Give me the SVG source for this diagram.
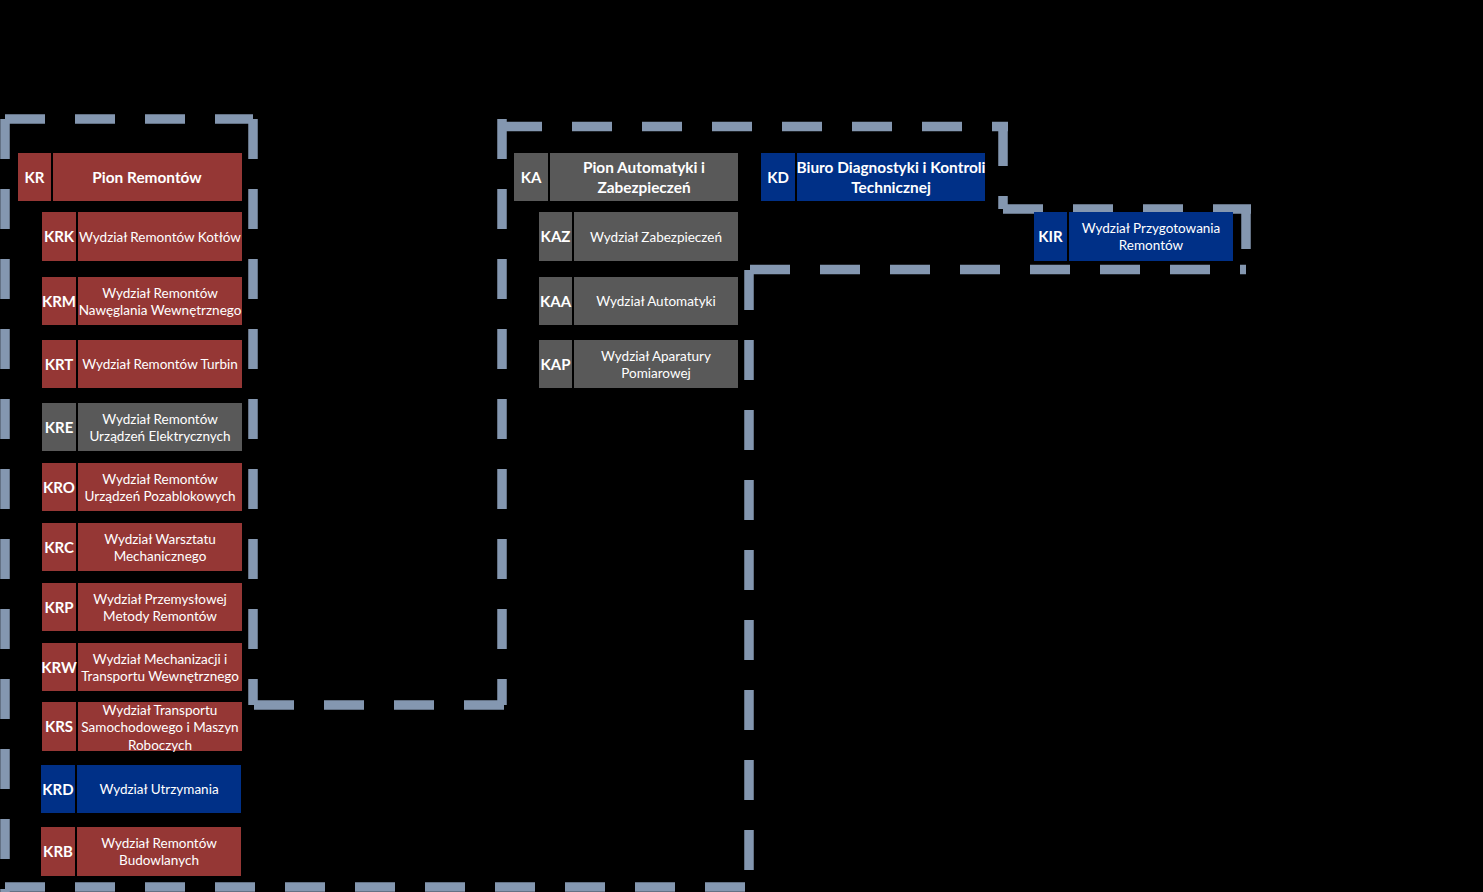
<svg xmlns="http://www.w3.org/2000/svg" width="1483" height="892" viewBox="0 0 1483 892">
<style>
.bg{fill:#000}
.red{fill:#953735}
.grey{fill:#595959}
.blue{fill:#003087}
.code{font-family:Lato,"Liberation Sans",sans-serif;font-weight:bold;font-size:15px;fill:#fff;text-anchor:middle}
.ttl{font-family:Lato,"Liberation Sans",sans-serif;font-weight:bold;font-size:15.4px;fill:#fff;text-anchor:middle}
.nm{font-family:Lato,"Liberation Sans",sans-serif;font-size:13.5px;fill:#fff;text-anchor:middle}
.dash{stroke:#8497B0;stroke-width:9.5;fill:none;stroke-dasharray:40 30}
</style>
<rect class="bg" x="0" y="0" width="1483" height="892"/>
<g id="connectors">
<line class="dash" x1="5" y1="119" x2="253" y2="119"/>
<line class="dash" x1="5" y1="119" x2="5" y2="892"/>
<line class="dash" x1="253" y1="119" x2="253" y2="705"/>
<line class="dash" x1="254" y1="705" x2="507" y2="705"/>
<line class="dash" x1="502" y1="119" x2="502" y2="705"/>
<line class="dash" x1="502" y1="126.5" x2="1008" y2="126.5"/>
<line class="dash" x1="1003" y1="126" x2="1003" y2="209"/>
<line class="dash" x1="1003" y1="209" x2="1251" y2="209"/>
<line class="dash" x1="1246" y1="209" x2="1246" y2="270"/>
<line class="dash" x1="750" y1="269.5" x2="1246" y2="269.5"/>
<line class="dash" x1="749" y1="270" x2="749" y2="892"/>
<line class="dash" x1="5" y1="887" x2="749" y2="887"/>
</g>
<g id="KR">
<rect class="red" x="18" y="153" width="33" height="48"/>
<rect class="red" x="53" y="153" width="189" height="48"/>
<text class="code" x="34.5" y="182.5">KR</text>
<text class="ttl" x="147" y="182.5">Pion Remontów</text>
</g>
<g id="KRK">
<rect class="red" x="42" y="212" width="34" height="49"/>
<rect class="red" x="78" y="212" width="164" height="49"/>
<text class="code" x="59" y="242">KRK</text>
<text class="nm" x="160" y="241.5">Wydział Remontów Kotłów</text>
</g>
<g id="KRM">
<rect class="red" x="42" y="277" width="34" height="48"/>
<rect class="red" x="78" y="277" width="164" height="48"/>
<text class="code" x="59" y="306.5">KRM</text>
<text class="nm" x="160" y="297.5">Wydział Remontów<tspan x="160" dy="17">Nawęglania Wewnętrznego</tspan></text>
</g>
<g id="KRT">
<rect class="red" x="42" y="340" width="34" height="48"/>
<rect class="red" x="78" y="340" width="164" height="48"/>
<text class="code" x="59" y="369.5">KRT</text>
<text class="nm" x="160" y="369">Wydział Remontów Turbin</text>
</g>
<g id="KRE">
<rect class="grey" x="42" y="403" width="34" height="48"/>
<rect class="grey" x="78" y="403" width="164" height="48"/>
<text class="code" x="59" y="432.5">KRE</text>
<text class="nm" x="160" y="423.5">Wydział Remontów<tspan x="160" dy="17">Urządzeń Elektrycznych</tspan></text>
</g>
<g id="KRO">
<rect class="red" x="42" y="463" width="34" height="48"/>
<rect class="red" x="78" y="463" width="164" height="48"/>
<text class="code" x="59" y="492.5">KRO</text>
<text class="nm" x="160" y="483.5">Wydział Remontów<tspan x="160" dy="17">Urządzeń Pozablokowych</tspan></text>
</g>
<g id="KRC">
<rect class="red" x="42" y="523" width="34" height="48"/>
<rect class="red" x="78" y="523" width="164" height="48"/>
<text class="code" x="59" y="552.5">KRC</text>
<text class="nm" x="160" y="543.5">Wydział Warsztatu<tspan x="160" dy="17">Mechanicznego</tspan></text>
</g>
<g id="KRP">
<rect class="red" x="42" y="583" width="34" height="48"/>
<rect class="red" x="78" y="583" width="164" height="48"/>
<text class="code" x="59" y="612.5">KRP</text>
<text class="nm" x="160" y="603.5">Wydział Przemysłowej<tspan x="160" dy="17">Metody Remontów</tspan></text>
</g>
<g id="KRW">
<rect class="red" x="42" y="643" width="34" height="48"/>
<rect class="red" x="78" y="643" width="164" height="48"/>
<text class="code" x="59" y="672.5">KRW</text>
<text class="nm" x="160" y="663.5">Wydział Mechanizacji i<tspan x="160" dy="17">Transportu Wewnętrznego</tspan></text>
</g>
<g id="KRS">
<rect class="red" x="42" y="702" width="34" height="49"/>
<rect class="red" x="78" y="702" width="164" height="49"/>
<text class="code" x="59" y="732">KRS</text>
<text class="nm" x="160" y="714.5">Wydział Transportu<tspan x="160" dy="17.5">Samochodowego i Maszyn</tspan><tspan x="160" dy="17.5">Roboczych</tspan></text>
</g>
<g id="KRD">
<rect class="blue" x="41" y="765" width="34" height="48"/>
<rect class="blue" x="77" y="765" width="164" height="48"/>
<text class="code" x="58" y="794.5">KRD</text>
<text class="nm" x="159" y="794">Wydział Utrzymania</text>
</g>
<g id="KRB">
<rect class="red" x="41" y="827" width="34" height="49"/>
<rect class="red" x="77" y="827" width="164" height="49"/>
<text class="code" x="58" y="857">KRB</text>
<text class="nm" x="159" y="848">Wydział Remontów<tspan x="159" dy="17">Budowlanych</tspan></text>
</g>
<g id="KA">
<rect class="grey" x="514" y="153" width="34" height="48"/>
<rect class="grey" x="550" y="153" width="188" height="48"/>
<text class="code" x="531" y="182.5">KA</text>
<text class="ttl" x="644" y="172.5">Pion Automatyki i<tspan x="644" dy="20">Zabezpieczeń</tspan></text>
</g>
<g id="KAZ">
<rect class="grey" x="539" y="212" width="33" height="49"/>
<rect class="grey" x="574" y="212" width="164" height="49"/>
<text class="code" x="555.5" y="242">KAZ</text>
<text class="nm" x="656" y="241.5">Wydział Zabezpieczeń</text>
</g>
<g id="KAA">
<rect class="grey" x="539" y="277" width="33" height="48"/>
<rect class="grey" x="574" y="277" width="164" height="48"/>
<text class="code" x="555.5" y="306.5">KAA</text>
<text class="nm" x="656" y="306">Wydział Automatyki</text>
</g>
<g id="KAP">
<rect class="grey" x="539" y="340" width="33" height="48"/>
<rect class="grey" x="574" y="340" width="164" height="48"/>
<text class="code" x="555.5" y="369.5">KAP</text>
<text class="nm" x="656" y="360.5">Wydział Aparatury<tspan x="656" dy="17">Pomiarowej</tspan></text>
</g>
<g id="KD">
<rect class="blue" x="761" y="153" width="34" height="48"/>
<rect class="blue" x="797" y="153" width="188" height="48"/>
<text class="code" x="778" y="182.5">KD</text>
<text class="ttl" x="891" y="172.5">Biuro Diagnostyki i Kontroli<tspan x="891" dy="20">Technicznej</tspan></text>
</g>
<g id="KIR">
<rect class="blue" x="1034" y="212" width="33" height="49"/>
<rect class="blue" x="1069" y="212" width="164" height="49"/>
<text class="code" x="1050.5" y="242">KIR</text>
<text class="nm" x="1151" y="233">Wydział Przygotowania<tspan x="1151" dy="17">Remontów</tspan></text>
</g>
</svg>
